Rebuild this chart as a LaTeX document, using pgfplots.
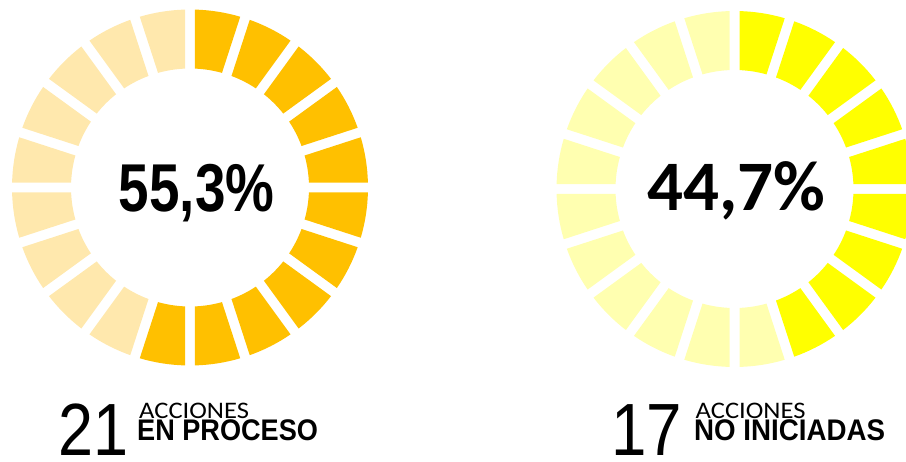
\documentclass[border=0pt]{standalone}
\usepackage{pgfplots}
\pgfplotsset{compat=1.18}
\usepackage{pgfplotstable}
\usepackage{graphicx}
\usepackage{fontspec}
\setmainfont{Liberation Sans}
\newfontfamily\carlito{Carlito}

\definecolor{goldfull}{HTML}{FFC000}
\definecolor{goldlight}{HTML}{FFE8AD}
\definecolor{yelfull}{HTML}{FFFF00}
\definecolor{yellight}{HTML}{FFFFB0}

% 20 segments (5% each), clockwise from 12 o'clock; 1 = counted
\pgfplotstableread{
seg filled
0 1
1 1
2 1
3 1
4 1
5 1
6 1
7 1
8 1
9 1
10 1
11 0
12 0
13 0
14 0
15 0
16 0
17 0
18 0
19 0
}\enproceso

\pgfplotstableread{
seg filled
0 1
1 1
2 1
3 1
4 1
5 1
6 1
7 1
8 1
9 0
10 0
11 0
12 0
13 0
14 0
15 0
16 0
17 0
18 0
19 0
}\noiniciadas

\newcommand\donut[5]{%
  \pgfplotstablegetrowsof{#1}%
  \pgfmathtruncatemacro\nrows{\pgfplotsretval-1}%
  \foreach \row in {0,...,\nrows}{%
    \pgfplotstablegetelem{\row}{seg}\of{#1}\let\seg\pgfplotsretval
    \pgfplotstablegetelem{\row}{filled}\of{#1}\let\fil\pgfplotsretval
    \pgfmathsetmacro\ao{18*\seg+asin(5/178)}%
    \pgfmathsetmacro\bo{18*(\seg+1)-asin(5/178)}%
    \pgfmathsetmacro\ai{18*\seg+asin(5/119)}%
    \pgfmathsetmacro\bi{18*(\seg+1)-asin(5/119)}%
    \xdef\coords{}%
    \foreach \j in {0,...,8}{%
      \pgfmathsetmacro\myang{\ao+(\bo-\ao)*\j/8}%
      \pgfmathsetmacro\px{#2+178*sin(\myang)}%
      \pgfmathsetmacro\py{#3-178*cos(\myang)}%
      \xdef\coords{\coords (\px,\py)}%
    }%
    \foreach \j in {0,...,8}{%
      \pgfmathsetmacro\myang{\bi+(\ai-\bi)*\j/8}%
      \pgfmathsetmacro\px{#2+119*sin(\myang)}%
      \pgfmathsetmacro\py{#3-119*cos(\myang)}%
      \xdef\coords{\coords (\px,\py)}%
    }%
    \ifnum\fil=1 \def\col{#4}\else\def\col{#5}\fi
    \edef\doplot{\noexpand\addplot[fill=\col, draw=none, forget plot] coordinates {\coords};}%
    \doplot
  }%
}

\begin{document}
\begin{tikzpicture}
\useasboundingbox (0,0) rectangle (906bp,462bp);
\begin{axis}[
  at={(0,0)}, anchor=south west,
  scale only axis, width=906bp, height=462bp,
  xmin=0, xmax=906, ymin=0, ymax=462,
  y dir=reverse, hide axis, clip=true,
]
\donut{\enproceso}{190}{187.5}{goldfull}{goldlight}
\donut{\noiniciadas}{734.5}{189}{yelfull}{yellight}

\node[anchor=base, inner sep=0] at (axis cs:196.7,211.7)
  {\fontsize{67.7bp}{70bp}\selectfont\bfseries\scalebox{0.81}[1]{55,3\%}};
\node[anchor=base, inner sep=0] at (axis cs:736.3,210)
  {\fontsize{71bp}{73bp}\selectfont\carlito\bfseries 44,7\%};

\node[anchor=base west, inner sep=0] at (axis cs:58.3,455.5)
  {\fontsize{74bp}{76bp}\selectfont\scalebox{0.85}[1]{21}};
\node[anchor=base west, inner sep=0] at (axis cs:139,418.3)
  {\fontsize{23.7bp}{25bp}\selectfont\carlito\scalebox{1.12}[1]{ACCIONES}};
\node[anchor=base west, inner sep=0] at (axis cs:137,440.5)
  {\fontsize{29.8bp}{31bp}\selectfont\bfseries\scalebox{0.91}[1]{EN PROCESO}};

\node[anchor=base west, inner sep=0] at (axis cs:611,455.5)
  {\fontsize{74bp}{76bp}\selectfont\scalebox{0.86}[1]{17}};
\node[anchor=base west, inner sep=0] at (axis cs:695.5,418.3)
  {\fontsize{23.7bp}{25bp}\selectfont\carlito\scalebox{1.12}[1]{ACCIONES}};
\node[anchor=base west, inner sep=0] at (axis cs:694,440)
  {\fontsize{29.8bp}{31bp}\selectfont\bfseries\scalebox{0.93}[1]{NO INICIADAS}};
\end{axis}
\end{tikzpicture}
\end{document}
